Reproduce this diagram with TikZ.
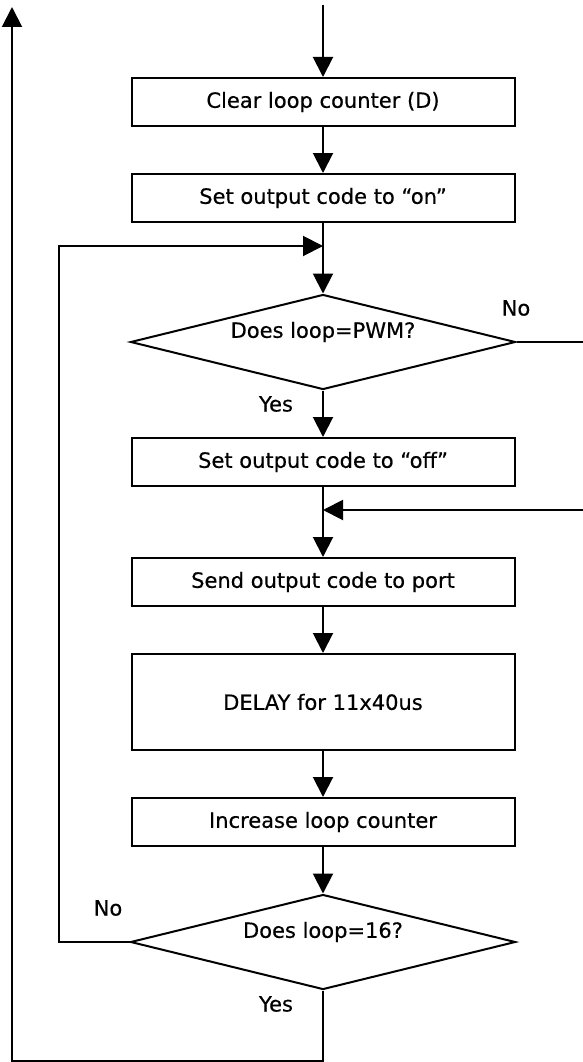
\documentclass[tikz,border=0pt]{standalone}
\usepackage{fontspec}
\setmainfont{DejaVu Sans}[FakeBold=0.5]
\usetikzlibrary{arrows.meta,shapes.geometric}
\begin{document}
\begin{tikzpicture}[x=1pt,y=-1pt,
  font=\fontsize{21}{25}\selectfont,
  line width=2pt,
  proc/.style={draw, rectangle, minimum width=383pt, minimum height=48pt, inner sep=0pt},
  dec/.style={draw, diamond, minimum width=385pt, minimum height=95pt, inner sep=0pt},
  lbl/.style={inner sep=0pt},
  arr/.style={-{Triangle[length=20pt,width=20pt]}},
  ln/.style={-}]
\useasboundingbox (0,0) rectangle (583,1062);
\coordinate (start) at (323,5);
\node[proc] (b1) at (323,102) {Clear loop counter (D)};
\node[proc] (b2) at (323,198) {Set output code to “on”};
\node[dec] (d1) at (323,342) {};
\node[lbl] (d1t) at ([yshift=10pt]d1.center) {Does loop=PWM?};
\node[proc] (b3) at (323,462) {Set output code to “off”};
\coordinate (j) at (323,510);
\coordinate (r1) at (583,342);
\coordinate (r2) at (583,510);
\node[proc] (b4) at (323,582) {Send output code to port};
\node[proc, minimum height=96pt] (b5) at (323,702) {DELAY for 11x40us};
\node[proc] (b6) at (323,822) {Increase loop counter};
\node[dec] (d2) at (323,942) {};
\node[lbl] (d2t) at ([yshift=10pt]d2.center) {Does loop=16?};
\coordinate (m1) at (59,942);
\coordinate (m2) at (59,246);
\coordinate (m3) at (323,246);
\coordinate (e1) at (323,1061);
\coordinate (e2) at (12,1061);
\coordinate (e3) at (12,7);
\node[lbl] (no1) at (516,308) {No};
\node[lbl] (yes1) at (276,404) {Yes};
\node[lbl] (no2) at (108,908) {No};
\node[lbl] (yes2) at (276,1004) {Yes};
\draw[arr] (start) -- (b1.north);
\draw[arr] (b1.south) -- (b2.north);
\draw[arr] (b2.south) -- (d1.north);
\draw[arr] (d1.south) -- (b3.north);
\draw[ln] (d1.east) -- (r1);
\draw[arr] (r2) -- (j);
\draw[arr] (b3.south) -- (b4.north);
\draw[arr] (b4.south) -- (b5.north);
\draw[arr] (b5.south) -- (b6.north);
\draw[arr] (b6.south) -- (d2.north);
\draw[arr] (d2.west) -- (m1) -- (m2) -- (m3);
\draw[arr] (d2.south) -- (e1) -- (e2) -- (e3);
\end{tikzpicture}
\end{document}
